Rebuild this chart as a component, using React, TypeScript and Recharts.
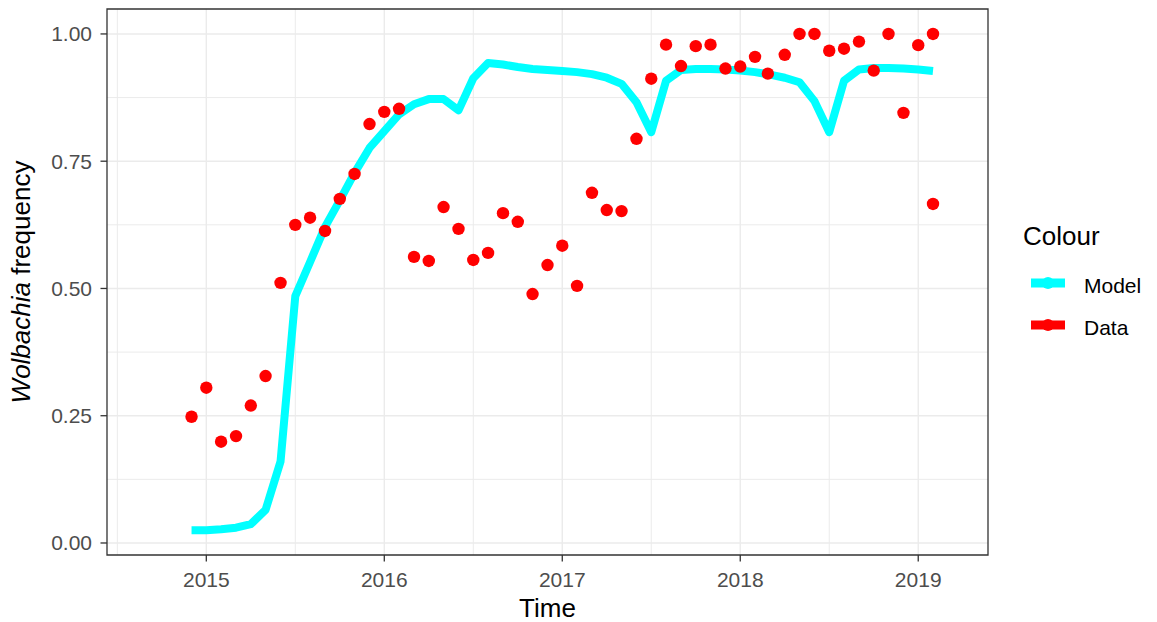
import {
  CartesianGrid,
  ComposedChart,
  Legend,
  Line,
  ReferenceArea,
  Scatter,
  XAxis,
  YAxis,
} from "recharts";

// monthly model output (decimal years)
const modelTimes = [
  2014.917, 2015.0, 2015.083, 2015.167, 2015.25, 2015.333, 2015.417, 2015.5,
  2015.583, 2015.667, 2015.75, 2015.833, 2015.917, 2016.0, 2016.083, 2016.167,
  2016.25, 2016.333, 2016.417, 2016.5, 2016.583, 2016.667, 2016.75, 2016.833,
  2016.917, 2017.0, 2017.083, 2017.167, 2017.25, 2017.333, 2017.417, 2017.5,
  2017.583, 2017.667, 2017.75, 2017.833, 2017.917, 2018.0, 2018.083, 2018.167,
  2018.25, 2018.333, 2018.417, 2018.5, 2018.583, 2018.667, 2018.75, 2018.833,
  2018.917, 2019.0, 2019.083,
];

const modelFreq = [
  0.025, 0.025, 0.027, 0.03, 0.037, 0.065, 0.16, 0.485, 0.552, 0.621, 0.673,
  0.727, 0.776, 0.809, 0.842, 0.862, 0.872, 0.872, 0.85, 0.913, 0.943, 0.94,
  0.935, 0.931, 0.929, 0.927, 0.925, 0.921, 0.914, 0.902, 0.866, 0.807, 0.908,
  0.929, 0.931, 0.931, 0.93, 0.928, 0.925, 0.92, 0.914, 0.905, 0.868, 0.807,
  0.908, 0.93, 0.933, 0.933, 0.932, 0.93, 0.927,
];

// field samples
const sampleTimes = [
  2014.917, 2015.0, 2015.083, 2015.167, 2015.25, 2015.333, 2015.417, 2015.5,
  2015.583, 2015.667, 2015.75, 2015.833, 2015.917, 2016.0, 2016.083, 2016.167,
  2016.25, 2016.333, 2016.417, 2016.5, 2016.583, 2016.667, 2016.75, 2016.833,
  2016.917, 2017.0, 2017.083, 2017.167, 2017.25, 2017.333, 2017.417, 2017.5,
  2017.583, 2017.667, 2017.75, 2017.833, 2017.917, 2018.0, 2018.083, 2018.155,
  2018.25, 2018.333, 2018.417, 2018.5, 2018.583, 2018.667, 2018.75, 2018.833,
  2018.917, 2019.0, 2019.083, 2019.083,
];

const sampleFreq = [
  0.248, 0.305, 0.199, 0.21, 0.27, 0.328, 0.511, 0.625, 0.639, 0.613, 0.676,
  0.725, 0.823, 0.847, 0.853, 0.562, 0.554, 0.66, 0.617, 0.556, 0.57, 0.648,
  0.631, 0.489, 0.546, 0.584, 0.505, 0.688, 0.654, 0.652, 0.794, 0.912, 0.979,
  0.937, 0.976, 0.979, 0.932, 0.936, 0.955, 0.922, 0.959, 1.0, 1.0, 0.967,
  0.971, 0.985, 0.928, 1.0, 0.845, 0.978, 0.666, 1.0,
];

const xTicks = [2015, 2016, 2017, 2018, 2019];
const xMinor = [2014.5, 2015.5, 2016.5, 2017.5, 2018.5];
const yTicks = [0, 0.25, 0.5, 0.75, 1];
const yMinor = [0.125, 0.375, 0.625, 0.875];

const xDomain = [2014.442, 2019.392];
const yDomain = [-0.0236, 1.049];

const modelData = modelTimes.map((t, i) => ({ t, v: modelFreq[i] }));
const sampleData = sampleTimes.map((t, i) => ({ t, v: sampleFreq[i] }));

const font = '"Liberation Sans", Arial, sans-serif';
const tickStyle = { fill: "#4D4D4D", fontSize: 21, fontFamily: font };

const RedDot = (props: any) => (
  <circle cx={props.cx} cy={props.cy} r={6.2} fill="#FF0000" />
);

const XTitle = (props: any) => {
  const vb = props.viewBox;
  return (
    <text
      x={vb.x + vb.width / 2}
      y={vb.y + 62}
      textAnchor="middle"
      fontSize={26}
      fontFamily={font}
      fill="#000"
    >
      Time
    </text>
  );
};

const YTitle = (props: any) => {
  const vb = props.viewBox;
  const cx = 30;
  const cy = vb.y + vb.height / 2;
  return (
    <text
      x={cx}
      y={cy}
      transform={`rotate(-90 ${cx} ${cy})`}
      textAnchor="middle"
      fontSize={26}
      fontFamily={font}
      fill="#000"
    >
      <tspan fontStyle="italic">Wolbachia</tspan>
      <tspan> frequency</tspan>
    </text>
  );
};

const ColourLegend = () => (
  <svg width={147} height={130} style={{ display: "block" }}>
    <text x={13} y={30} fontSize={26} fontFamily={font} fill="#000">
      Colour
    </text>
    <line x1={21} x2={55} y1={68} y2={68} stroke="#00FFFF" strokeWidth={9} />
    <circle cx={38} cy={68} r={6} fill="#00FFFF" />
    <text x={74} y={77.5} fontSize={21} fontFamily={font} fill="#000">
      Model
    </text>
    <line x1={21} x2={55} y1={110} y2={110} stroke="#FF0000" strokeWidth={9} />
    <circle cx={38} cy={110} r={6} fill="#FF0000" />
    <text x={74} y={120} fontSize={21} fontFamily={font} fill="#000">
      Data
    </text>
  </svg>
);

export default function App() {
  return (
    <div
      style={{
        position: "absolute",
        left: 0,
        top: 0,
        width: 1157,
        height: 622,
        background: "#fff",
        fontFamily: font,
      }}
    >
      <ComposedChart
        width={1157}
        height={622}
        margin={{ top: 9, right: 169, bottom: 0, left: 0 }}
      >
        <CartesianGrid
          stroke="#EBEBEB"
          strokeWidth={1}
          verticalValues={xMinor}
          horizontalValues={yMinor}
        />
        <CartesianGrid
          stroke="#EBEBEB"
          strokeWidth={1.4}
          verticalValues={xTicks}
          horizontalValues={yTicks}
        />
        <XAxis
          dataKey="t"
          type="number"
          domain={xDomain}
          ticks={xTicks}
          allowDataOverflow
          height={67}
          axisLine={false}
          tickLine={{ stroke: "#333333", strokeWidth: 1.3 }}
          tickSize={6.5}
          tickMargin={10.5}
          tick={tickStyle}
          label={{ content: XTitle }}
        />
        <YAxis
          type="number"
          domain={yDomain}
          ticks={yTicks}
          allowDataOverflow
          width={107}
          axisLine={false}
          tickLine={{ stroke: "#333333", strokeWidth: 1.3 }}
          tickSize={6.5}
          tickMargin={8.5}
          tick={tickStyle}
          tickFormatter={(v: number) => v.toFixed(2)}
          label={{ content: YTitle }}
        />
        <Legend
          layout="horizontal"
          align="center"
          verticalAlign="middle"
          content={ColourLegend}
          wrapperStyle={{ left: 1010, top: 215, width: 147 }}
        />
        <Line
          data={modelData}
          dataKey="v"
          type="linear"
          stroke="#00FFFF"
          strokeWidth={8}
          strokeLinejoin="round"
          dot={false}
          activeDot={false}
          isAnimationActive={false}
        />
        <Scatter
          data={sampleData}
          dataKey="v"
          shape={RedDot}
          isAnimationActive={false}
        />
        <ReferenceArea
          x1={xDomain[0]}
          x2={xDomain[1]}
          y1={yDomain[0]}
          y2={yDomain[1]}
          fill="none"
          stroke="#333333"
          strokeWidth={1.3}
          ifOverflow="visible"
        />
      </ComposedChart>
    </div>
  );
}
